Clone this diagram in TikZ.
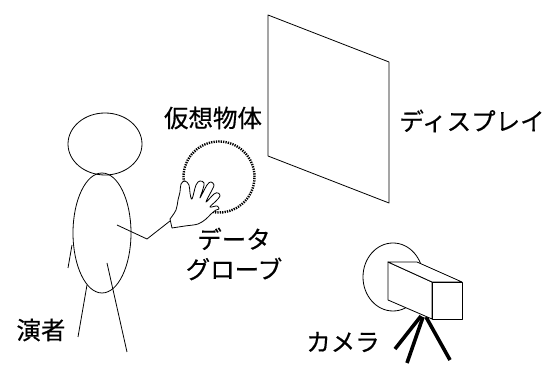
\documentclass[tikz,border=0pt]{standalone}
\usepackage{fontspec}
\setmainfont{Noto Sans CJK JP}[FakeBold=0.4]
\usepackage{tikz}
\usetikzlibrary{positioning}

\begin{document}
\begin{tikzpicture}[
  x=1pt, y=-1pt,
  lbl/.style={font=\fontsize{24.5}{30}\selectfont, inner sep=0pt, align=center},
  thin line/.style={line width=0.8pt, line join=round},
  tripod/.style={line width=3.6pt},
  virtual/.style={line width=2.4pt, dash pattern=on 1.3pt off 1.1pt}
]
\useasboundingbox (0,0) rectangle (550,366);

% ---- Display (tilted panel) ----
\draw[thin line] (268,15) -- (389,62) -- (389,203) -- (268,156) -- cycle;

% ---- Performer (left) ----
\draw[thin line] (105,144) ellipse [x radius=37pt, y radius=31pt];
\draw[thin line] (102,233) ellipse [x radius=29pt, y radius=60pt];
\draw[thin line] (72,245) -- (68,268);
\draw[thin line] (87,285) -- (78,337);
\draw[thin line] (107,263) -- (127,352);
\draw[thin line] (117,225) -- (147,239) -- (170,221);

% ---- Virtual object and data glove ----
\draw[virtual] (219,177) circle [radius=35.5pt];
\draw[thin line, fill=white] plot[smooth, tension=0.6] coordinates {
  (170,219) (176,210) (178,200) (180,192) (181,184) (185,181) (189,185)
  (190,193) (192,199) (196,185) (200,181) (204,183) (203,189) (200,198)
  (207,185) (211,182) (214,185) (212,190) (206,202) (214,194) (218,193)
  (220,196) (216,201) (210,207) (217,206) (219,209) (216,210) (211,214)
  (206,219) (198,224) (185,226) (172,228)} -- cycle;

% ---- Camera on tripod ----
\draw[thin line, fill=white] (393,277) ellipse [x radius=30pt, y radius=34pt];
\draw[tripod] (421,316) -- (395,349);
\draw[tripod] (423,317) -- (407,363);
\draw[tripod] (426,317) -- (450,360);
\draw[thin line, fill=white] (388,262) -- (432,282) -- (432,319) -- (388,300) -- cycle;
\draw[thin line, fill=white] (388,262) -- (417,262) -- (462,282) -- (432,282) -- cycle;
\draw[thin line, fill=white] (432,282) rectangle (462,319);

% ---- Labels ----
\node[lbl] (object)    at (213,118) {仮想物体};
\node[lbl] (display)   at (472,121) {ディスプレイ};
\node[lbl] (glove)     at (234,254) {データ\\グローブ};
\node[lbl] (performer) at (41,330)  {演者};
\node[lbl] (camera)    at (343,342) {カメラ};

\end{tikzpicture}
\end{document}
